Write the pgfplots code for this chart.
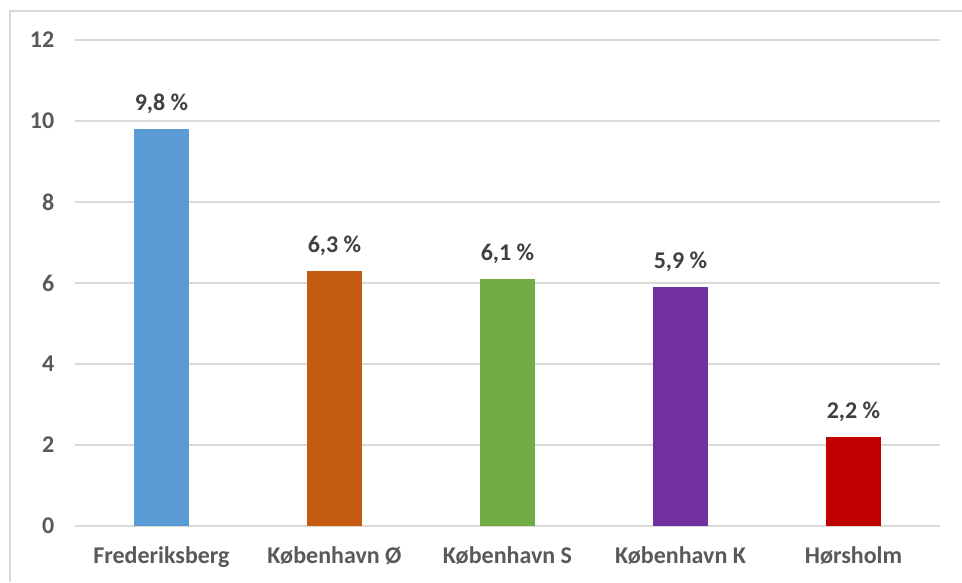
\documentclass[border=0pt]{standalone}
\usepackage{pgfplots}
\pgfplotsset{compat=1.18}
\usepackage{fontspec}
\setmainfont{Carlito}
\definecolor{txt}{HTML}{595959}
\definecolor{lbl}{HTML}{404040}
\definecolor{grd}{HTML}{D9D9D9}
\definecolor{c1}{HTML}{5B9BD5}
\definecolor{c2}{HTML}{C55A11}
\definecolor{c3}{HTML}{70AD47}
\definecolor{c4}{HTML}{7030A0}
\definecolor{c5}{HTML}{C00000}
\begin{document}
\begin{tikzpicture}
\useasboundingbox (0pt,0pt) rectangle (721.5pt,436.5pt);
\draw[grd, line width=1pt] (7.5pt,0pt) -- (7.5pt,428.25pt) -- (721.5pt,428.25pt);
\begin{axis}[
  at={(56.25pt,42pt)}, anchor=south west,
  scale only axis, width=648.75pt, height=364.5pt,
  xmin=-0.5, xmax=4.5, ymin=0, ymax=12,
  ytick={0,2,...,12},
  xtick={0,1,2,3,4},
  xticklabels={Frederiksberg, København Ø, København S, København K, Hørsholm},
  axis x line*=bottom, axis y line*=left,
  x axis line style={grd, line width=1.1pt},
  y axis line style={draw=none},
  major tick length=0pt,
  ymajorgrids, grid style={grd, line width=1.1pt},
  yticklabel style={font=\bfseries\fontsize{18}{20}\selectfont, text=txt, xshift=-12pt},
  xticklabel style={font=\bfseries\fontsize{18}{20}\selectfont, text=txt, yshift=-12pt},
  /pgf/number format/assume math mode=true,
  ybar, bar width=41.25pt, bar shift=0pt,
  nodes near coords={\pgfmathprintnumber[fixed,fixed zerofill,precision=1,use comma]{\pgfplotspointmeta}~\%},
  nodes near coords style={font=\bfseries\fontsize{18}{20}\selectfont, text=lbl, yshift=8pt},
  point meta=explicit,
  clip=false,
]
\addplot[fill=c1, draw=none] coordinates {(0,9.8) [9.8]};
\addplot[fill=c2, draw=none] coordinates {(1,6.3) [6.3]};
\addplot[fill=c3, draw=none] coordinates {(2,6.1) [6.1]};
\addplot[fill=c4, draw=none] coordinates {(3,5.9) [5.9]};
\addplot[fill=c5, draw=none] coordinates {(4,2.2) [2.2]};
\end{axis}
\end{tikzpicture}
\end{document}
